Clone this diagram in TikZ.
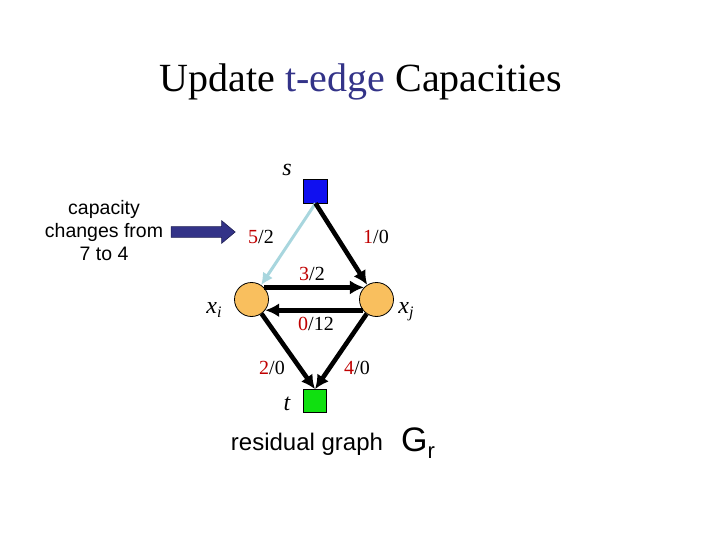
\documentclass[tikz,border=0pt]{standalone}
\usepackage{fontspec}
\setmainfont{Liberation Serif}
\setsansfont{Liberation Sans}
\usetikzlibrary{positioning,arrows.meta,shapes.arrows}
\definecolor{srcblue}{HTML}{1010F0}
\definecolor{sinkgreen}{HTML}{10E010}
\definecolor{vxorange}{HTML}{F9BF5E}
\definecolor{lightedge}{HTML}{A8D6DE}
\definecolor{capred}{HTML}{C00000}
\definecolor{titleblue}{HTML}{333388}
\tikzset{
  flowarrow/.style={-{Latex[length=14pt, width=14pt]}, line width=4.6pt},
  changedarrow/.style={-{Latex[length=12pt, width=12pt]}, line width=3pt, draw=lightedge},
  termnode/.style={draw, line width=0.6pt, minimum size=24pt, inner sep=0pt},
  vxnode/.style={circle, draw, line width=0.8pt, fill=vxorange, minimum size=34pt, inner sep=0pt},
  caplabel/.style={font=\fontsize{20}{22}\selectfont, inner sep=1pt},
  vxlabel/.style={font=\fontsize{24}{26}\selectfont\itshape, inner sep=0pt}
}
\newcommand{\capval}[2]{\textcolor{capred}{#1}/#2}
\begin{document}
\begin{tikzpicture}[x=1pt, y=-1pt]
  \useasboundingbox (0,0) rectangle (720,540);
  \node[anchor=base, font=\fontsize{40}{46}\selectfont] (title) at (361,92)
    {Update \textcolor{titleblue}{t-edge} Capacities};
  % graph
  \node[termnode, fill=srcblue] (s) at (315.5,191) {};
  \node[vxnode] (xi) at (251.5,299.5) {};
  \node[vxnode] (xj) at (376.5,299.5) {};
  \node[termnode, fill=sinkgreen, minimum size=23pt] (t) at (315,401) {};
  \node[vxlabel] (slab) at (287,170) {s};
  \node[vxlabel] (tlab) at (287,404) {t};
  \node[vxlabel] (xilab) at (214,310) {x\raisebox{-4pt}{\fontsize{16}{16}\selectfont i}};
  \node[vxlabel] (xjlab) at (406,312) {x\raisebox{-4pt}{\fontsize{16}{16}\selectfont j}};
  \draw[changedarrow] (s.south) -- (xi);
  \draw[flowarrow] (s.south) -- (xj);
  \draw[flowarrow] (xi.44) -- (xj.136);
  \draw[flowarrow] (xj.-142) -- (xi.-38);
  \draw[flowarrow] (xi) -- (t.north);
  \draw[flowarrow] (xj) -- (t.north);
  \node[caplabel] (c1) at (261,237) {\capval{5}{2}};
  \node[caplabel] (c2) at (376,237) {\capval{1}{0}};
  \node[caplabel] (c3) at (312,274) {\capval{3}{2}};
  \node[caplabel] (c4) at (316,324) {\capval{0}{12}};
  \node[caplabel] (c5) at (272,368) {\capval{2}{0}};
  \node[caplabel] (c6) at (357,368) {\capval{4}{0}};
  % note on the left
  \node[align=center, font=\sffamily\fontsize{19.5}{23}\selectfont] (note) at (104,231)
    {capacity\\changes from\\7 to 4};
  \node[single arrow, draw=titleblue!60!black, line width=0.6pt, fill=titleblue,
    minimum height=64pt, minimum width=22pt, inner sep=0pt, inner ysep=5pt,
    single arrow head extend=6pt, single arrow tip angle=80] (pointer) at (200,232) {};
  % caption
  \node[anchor=base, font=\sffamily\fontsize{24}{26}\selectfont] (cap) at (307,450) {residual graph};
  \node[anchor=base west, font=\sffamily\fontsize{34}{36}\selectfont, inner sep=0pt] (gr) at (401,451)
    {G\raisebox{-7pt}{\fontsize{22}{22}\selectfont r}};
\end{tikzpicture}
\end{document}
